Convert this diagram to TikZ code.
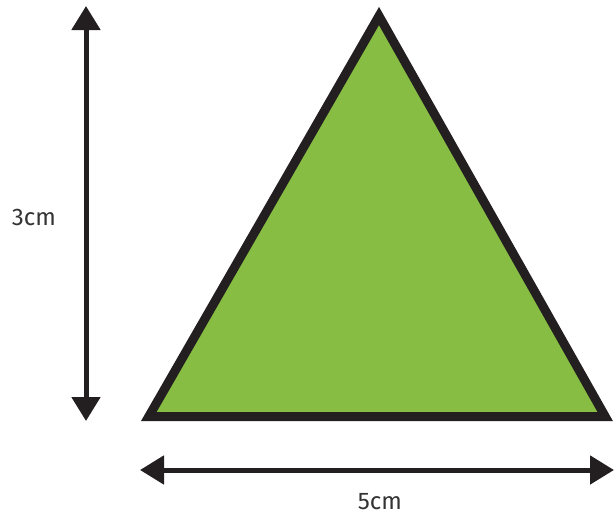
\documentclass[tikz,border=0pt]{standalone}
\usepackage{fontspec}
\setmainfont{Fira Sans}
\usetikzlibrary{arrows.meta}
\definecolor{tgreen}{HTML}{86BD42}
\definecolor{tdark}{HTML}{231F20}
\definecolor{ttext}{HTML}{333333}
\begin{document}
\begin{tikzpicture}[x=1pt,y=-1pt,
  dimarrow/.style={line width=5pt,draw=tdark,{Triangle[length=24pt,width=28pt]}-{Triangle[length=24pt,width=28pt]}},
  triface/.style={fill=tgreen,draw=tdark,line width=9pt,line join=miter},
  dimlabel/.style={text=ttext,font=\fontsize{24}{28}\selectfont,inner sep=0pt}]
\useasboundingbox (0,0) rectangle (614,514);
\coordinate (A) at (379,16);
\coordinate (B) at (148.8,416.5);
\coordinate (C) at (605.2,416.5);
\draw[triface] (A) -- (B) -- (C) -- cycle;
\coordinate (vtop) at (86,6);
\coordinate (vbot) at (86,421);
\draw[dimarrow] (vbot) -- (vtop);
\coordinate (hl) at (140,470);
\coordinate (hr) at (614,470);
\draw[dimarrow] (hl) -- (hr);
\node[dimlabel,anchor=base] (h) at (34,225) {3cm};
\node[dimlabel,anchor=base] (w) at (380,509) {5cm};
\end{tikzpicture}
\end{document}
